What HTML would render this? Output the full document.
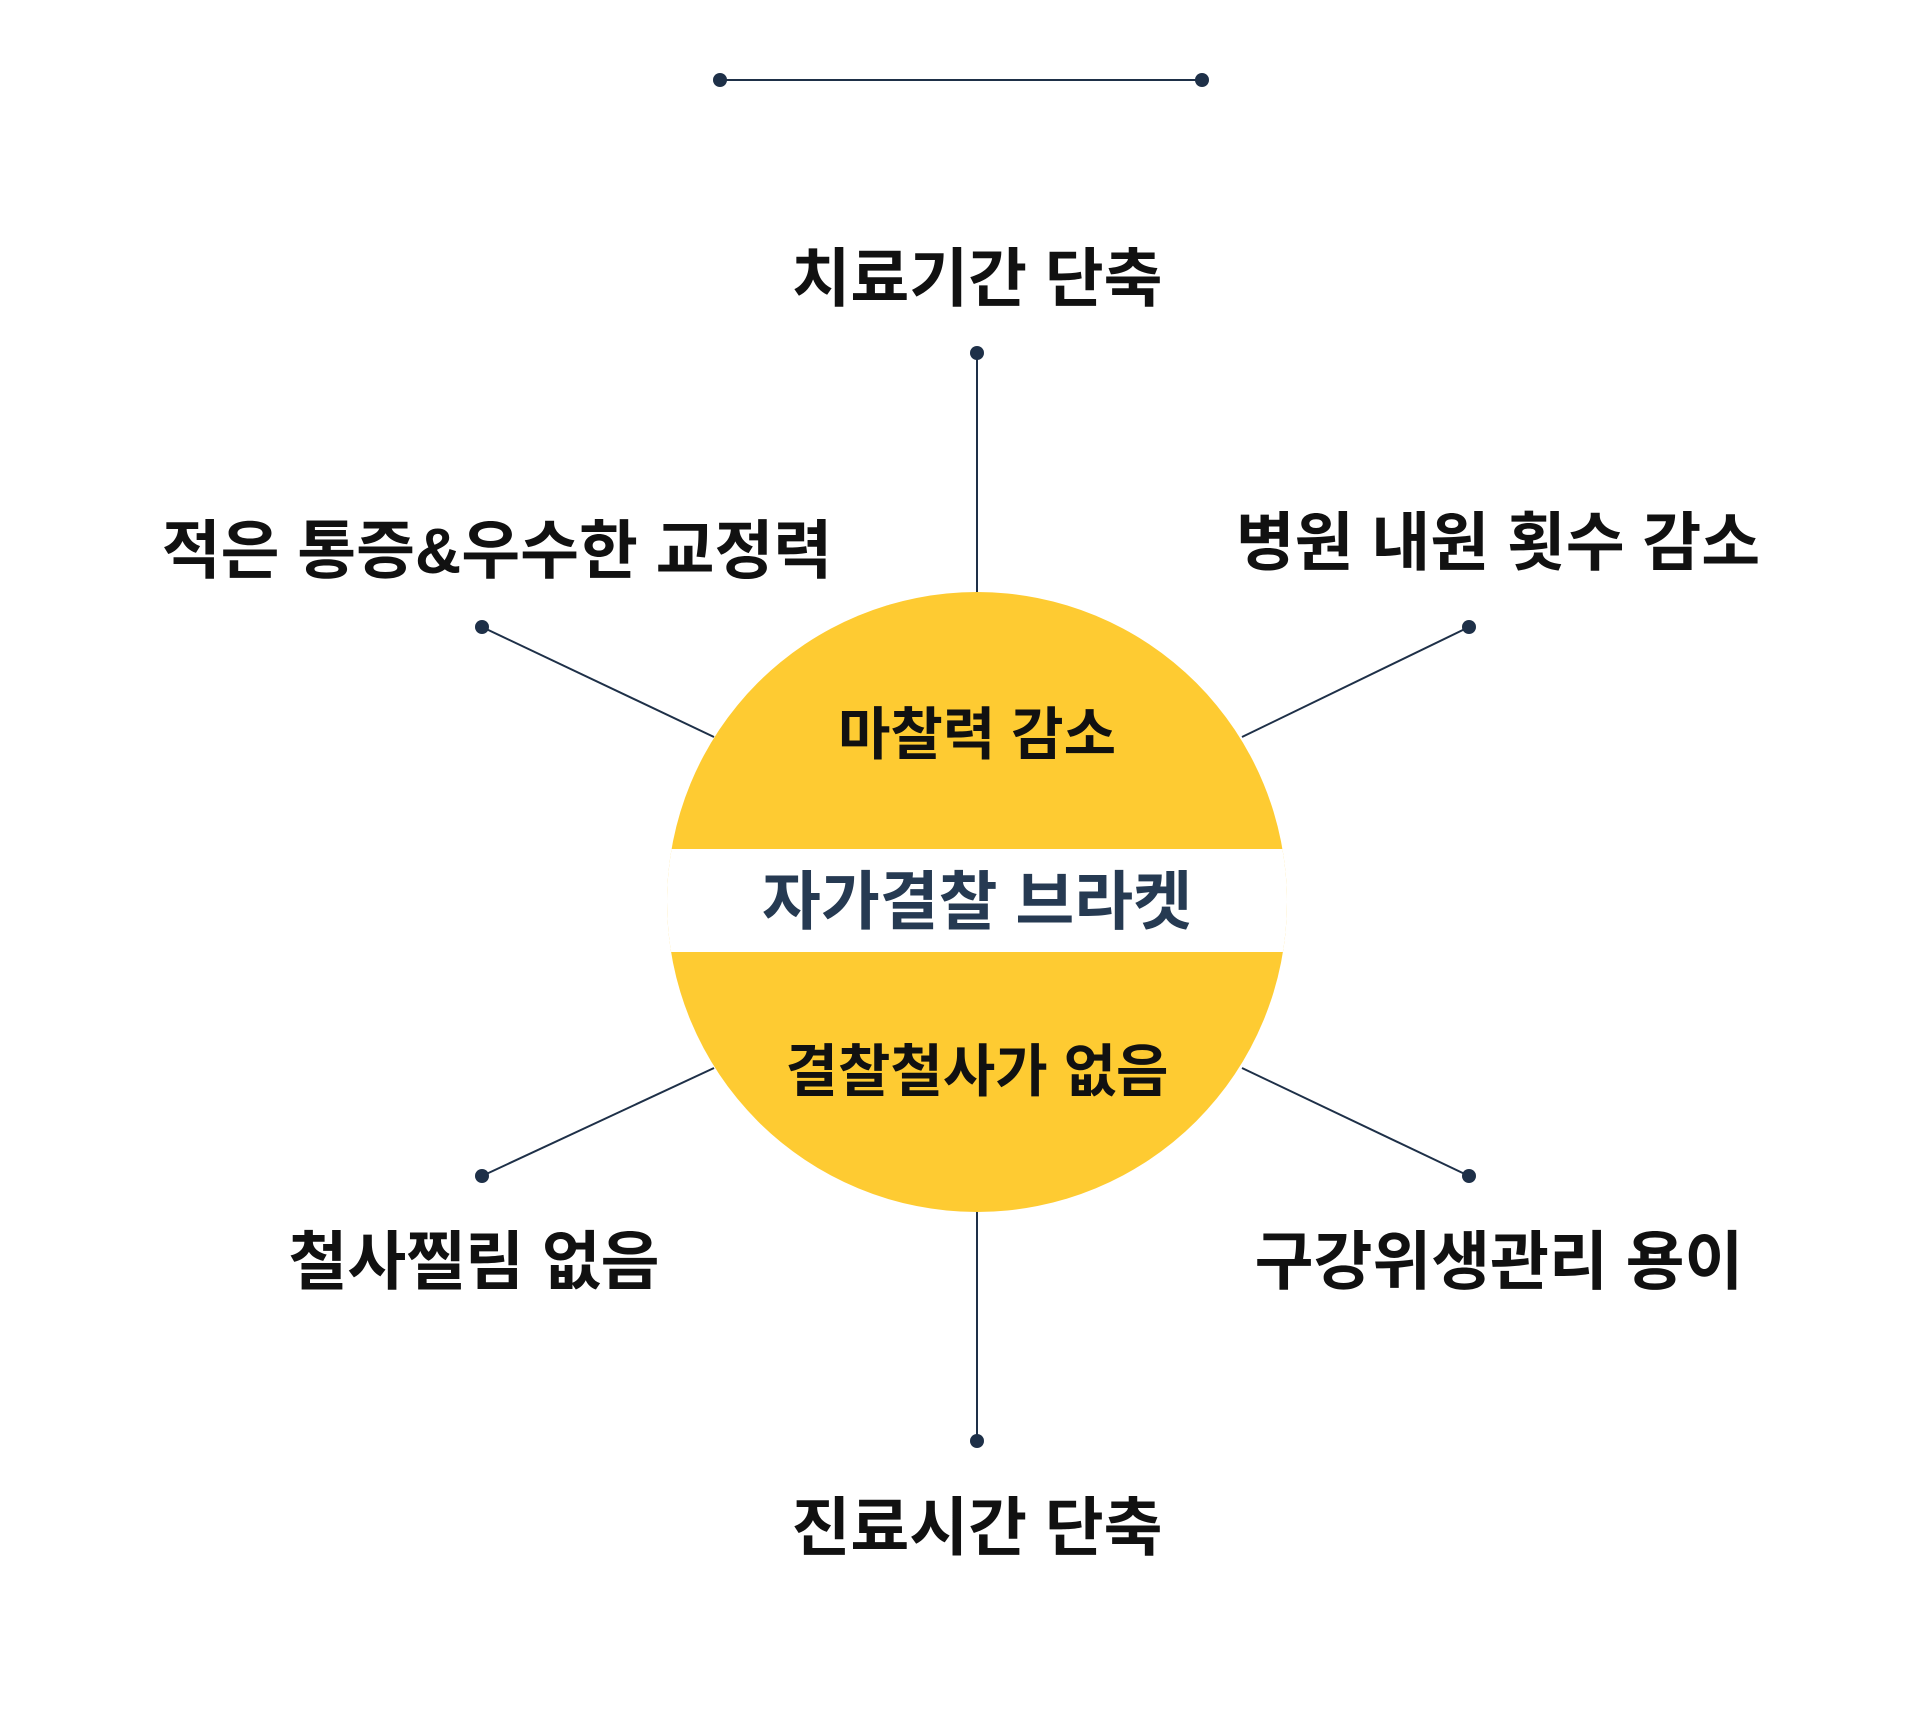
<!DOCTYPE html>
<html><head><meta charset="utf-8"><style>
html,body{margin:0;padding:0;background:#fff;}
svg text{font-family:"Liberation Sans","Noto Sans CJK KR",sans-serif;font-weight:bold;text-anchor:middle;dominant-baseline:central;}
</style></head><body>
<svg width="1920" height="1711" viewBox="0 0 1920 1711" xmlns="http://www.w3.org/2000/svg">
<defs>
<clipPath id="c"><circle cx="981" cy="902" r="310"/></clipPath>
</defs>
<g transform="translate(-4,0)">
<g stroke="#1e3048" stroke-width="2" fill="none">
<line x1="724" y1="80" x2="1206" y2="80"/>
<line x1="981" y1="353" x2="981" y2="600"/>
<line x1="981" y1="1205" x2="981" y2="1441"/>
<line x1="486" y1="627" x2="718" y2="737"/>
<line x1="1473" y1="627" x2="1246" y2="737"/>
<line x1="486" y1="1176" x2="718" y2="1068"/>
<line x1="1473" y1="1176" x2="1246" y2="1068"/>
</g>
<g fill="#1e3048">
<circle cx="724" cy="80" r="7"/><circle cx="1206" cy="80" r="7"/>
<circle cx="981" cy="353" r="7"/><circle cx="981" cy="1441" r="7"/>
<circle cx="486" cy="627" r="7"/><circle cx="1473" cy="627" r="7"/>
<circle cx="486" cy="1176" r="7"/><circle cx="1473" cy="1176" r="7"/>
</g>
<g clip-path="url(#c)">
<rect x="660" y="580" width="640" height="640" fill="#fecb32"/>
<rect x="660" y="849" width="640" height="103" fill="#fff"/>
</g>
<text x="981" y="735" font-size="57" fill="#111">마찰력 감소</text>
<text x="981" y="902" font-size="64" fill="#263a52">자가결찰 브라켓</text>
<text x="981" y="1072" font-size="57" fill="#111">결찰철사가 없음</text>
<text x="981" y="279" font-size="64" fill="#111">치료기간 단축</text>
<text x="981" y="1528" font-size="64" fill="#111">진료시간 단축</text>
<text x="501" y="551" font-size="64" fill="#111">적은 통증&amp;우수한 교정력</text>
<text x="1502" y="543" font-size="64" fill="#111">병원 내원 횟수 감소</text>
<text x="478" y="1262" font-size="64" fill="#111">철사찔림 없음</text>
<text x="1503" y="1262" font-size="64" fill="#111">구강위생관리 용이</text>
</g>
</svg>
</body></html>
